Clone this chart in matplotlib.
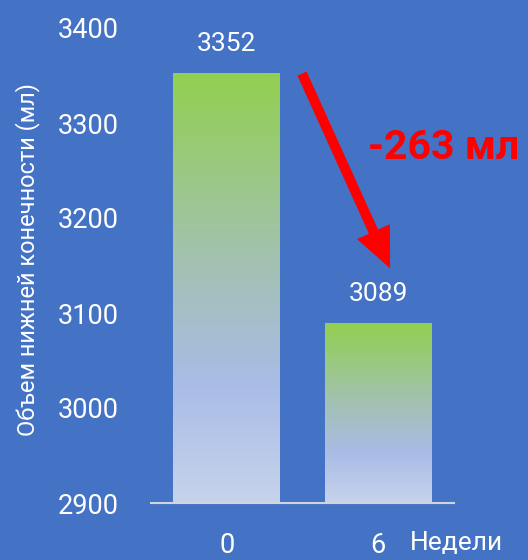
import numpy as np
import matplotlib
matplotlib.use('Agg')
import matplotlib.pyplot as plt
from matplotlib.colors import LinearSegmentedColormap

weeks = ['0', '6']
volumes = [3352, 3089]
y_ticks = [2900, 3000, 3100, 3200, 3300, 3400]
diff_label = '-263 мл'
y_title = 'Объем нижней конечности (мл)'
x_title = 'Недели'

plt.rcParams['font.family'] = ['Roboto', 'DejaVu Sans']

bg = '#4472C4'
grad = LinearSegmentedColormap.from_list(
    'bar', [(0.0, '#C6D3EC'), (0.28, '#A9BCE6'), (0.55, '#A3C1B4'), (1.0, '#92D050')])

fig = plt.figure(figsize=(5.28, 5.6), dpi=100, facecolor=bg)
ax = fig.add_axes([151 / 528, 57 / 560, 303 / 528, 475 / 560])
ax.set_facecolor(bg)

x = np.arange(len(weeks))
width = 0.706
ymin, ymax = 2900, 3400

column = np.linspace(0, 1, 256).reshape(-1, 1)
for xi, v in zip(x, volumes):
    ax.imshow(column, cmap=grad, origin='lower', aspect='auto',
              extent=[xi - width / 2, xi + width / 2, ymin, v], zorder=2)
    ax.text(xi, v + 31, str(v), ha='center', va='center', color='white',
            fontsize=19)
ax.set_xlim(-0.5, len(weeks) - 0.5)
ax.set_ylim(ymin, ymax)

for s in ['top', 'right', 'left']:
    ax.spines[s].set_visible(False)
ax.spines['bottom'].set_color('#D0D4DC')
ax.spines['bottom'].set_linewidth(1.5)
ax.spines['bottom'].set_zorder(3)

ax.set_yticks(y_ticks)
ax.set_yticklabels([str(t) for t in y_ticks])
ax.set_xticks(x)
ax.set_xticklabels(weeks)
ax.tick_params(axis='y', length=0, pad=23, labelsize=19.5, labelcolor='white')
ax.tick_params(axis='x', length=0, pad=21, labelsize=19.5, labelcolor='white')

fig.text(28 / 528, 1 - 259 / 560, y_title, rotation=90, ha='center', va='center',
         color='white', fontsize=17)
fig.text(410 / 528, 1 - 543 / 560, x_title, ha='left', va='center',
         color='white', fontsize=19)

# arrow from first bar top down to second bar label
ax.annotate('', xy=(x[1] + 0.078, volumes[1] + 58), xytext=(x[0] + 0.497, volumes[0]),
            arrowprops=dict(arrowstyle='simple,head_length=1.45,head_width=1.3,tail_width=0.36',
                            mutation_scale=20, color='#FF0000', lw=0,
                            shrinkA=0, shrinkB=0),
            annotation_clip=False, zorder=4)
fig.text(368 / 528, 1 - 148 / 560, diff_label, ha='left', va='center',
         color='#FF0000', fontsize=29.5, fontweight='bold')

fig.savefig('out.png', dpi=100, facecolor=bg)
